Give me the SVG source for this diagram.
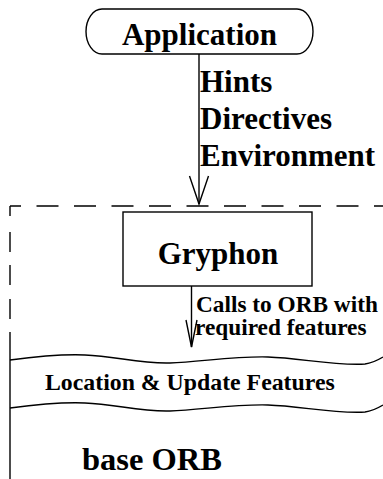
<svg xmlns="http://www.w3.org/2000/svg" width="383" height="479" viewBox="0 0 383 479">
<style>
.t{font-family:"Liberation Serif","Times New Roman",serif;font-weight:bold;fill:#000}
.s{fill:none;stroke:#000;stroke-width:1.4}
</style>
<rect width="383" height="479" fill="#fff"/>
<g id="orb-container">
<path class="s" d="M10,206 H390" stroke-dasharray="22 15.5" stroke-dashoffset="11"/>
<path class="s" d="M10,206 V333" stroke-dasharray="10 16 20 13 20 14 20 14"/>
<path class="s" d="M10,332 V479"/>
</g>
<g id="application">
<rect class="s" x="86" y="9" width="227" height="45" rx="16" ry="22.5"/>
<text class="t" x="199.5" y="45" font-size="31" text-anchor="middle">Application</text>
</g>
<g id="gryphon">
<rect class="s" x="123" y="212" width="189" height="74" stroke-width="1.8"/>
<text class="t" x="218" y="264" font-size="31" text-anchor="middle">Gryphon</text>
</g>
<g id="location-update">
<path class="s" d="M10,360 C40,356 60,354 85,355 C115,356 140,364 170,363 C200,362 235,356 268,357 C300,358 335,366 365,364 C373,363 378,360 383,357"/>
<path class="s" d="M10,408 C40,404 60,402 85,403 C115,404 140,412 170,411 C200,410 235,404 268,405 C300,406 335,414 365,412 C373,411 378,408 383,405"/>
<text class="t" x="45" y="390" font-size="23.8">Location &amp; Update Features</text>
</g>
<g id="base-orb">
<text class="t" x="82" y="470" font-size="32.5">base ORB</text>
</g>
<g id="connectors">
<path class="s" d="M199,54 V204"/>
<path class="s" d="M189.5,176 L199,204 L208.5,176"/>
<text class="t" x="200" y="92" font-size="31">Hints</text>
<text class="t" x="200" y="129" font-size="31">Directives</text>
<text class="t" x="200" y="166" font-size="31">Environment</text>
<path class="s" d="M191.5,286 V347"/>
<path class="s" d="M186,320 L191.5,347 L197,320"/>
<text class="t" x="196" y="312" font-size="23.3">Calls to ORB with</text>
<text class="t" x="195" y="335" font-size="23.3">required features</text>
</g>
</svg>
